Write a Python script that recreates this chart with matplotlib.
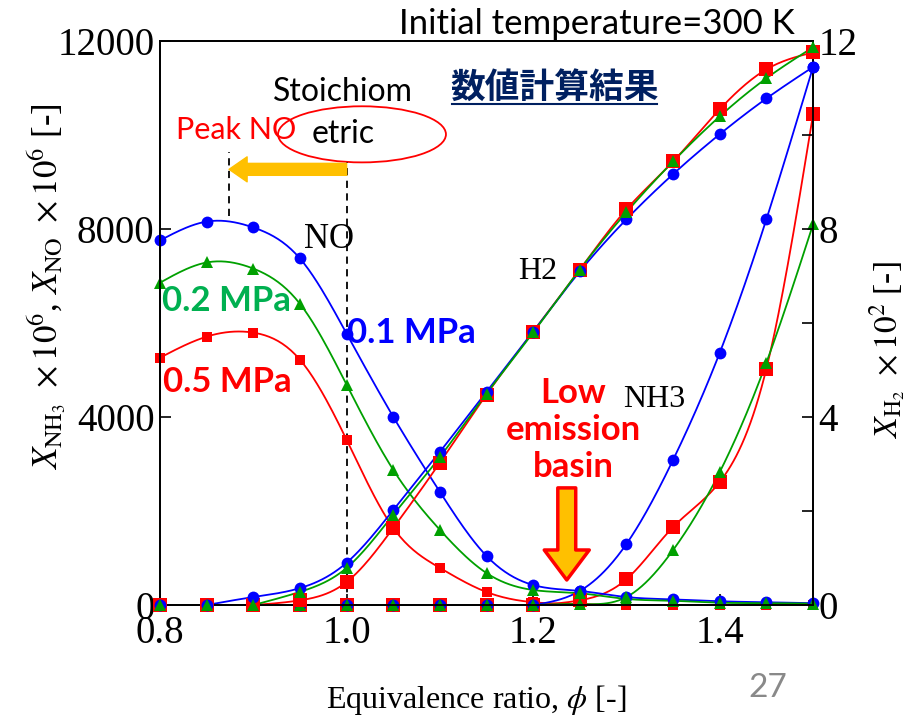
import numpy as np
import matplotlib
matplotlib.use("Agg")
import matplotlib.pyplot as plt
from matplotlib.patches import Ellipse
from matplotlib.lines import Line2D

plt.rcParams['mathtext.fontset'] = 'stix'

# equivalence ratio
phi = [0.8, 0.85, 0.9, 0.95, 1.0, 1.05, 1.1, 1.15, 1.2, 1.25, 1.3, 1.35, 1.4, 1.45, 1.5]

# NO mole fraction x1e6 (left axis)
no_01 = [7760, 8160, 8035, 7375, 5776, 4007, 2408, 1044, 426, 300, 170, 120, 80, 60, 40]
no_02 = [6860, 7290, 7160, 6410, 4690, 2877, 1600, 680, 320, 250, 130, 90, 50, 40, 30]
no_05 = [5264, 5712, 5797, 5221, 3517, 1641, 790, 277, 60, 20, 0, 0, 0, 0, 0]

# NH3 mole fraction x1e6 (left axis)
nh3_01 = [0, 0, 0, 0, 0, 0, 0, 0, 0, 300, 1300, 3090, 5370, 8210, 11450]
nh3_02 = [0, 0, 0, 0, 0, 0, 0, 0, 0, 20, 170, 1170, 2830, 5160, 8100]
nh3_05 = [0, 0, 0, 0, 0, 0, 0, 0, 0, 100, 550, 1660, 2620, 5030, 10440]

# H2 mole fraction x1e2 (right axis)
h2_01 = [0, 0, 0.17, 0.36, 0.90, 2.02, 3.26, 4.54, 5.82, 7.10, 8.21, 9.17, 10.02, 10.78, 11.45]
h2_02 = [0, 0, 0, 0.28, 0.79, 1.92, 3.15, 4.50, 5.80, 7.14, 8.36, 9.44, 10.40, 11.21, 11.87]
h2_05 = [0, 0, 0, 0.10, 0.49, 1.64, 3.03, 4.48, 5.82, 7.14, 8.42, 9.44, 10.55, 11.40, 11.76]

phi_peak = 0.874


def spline(x, y, num=300):
    # natural cubic spline through the points
    x = np.asarray(x, float)
    y = np.asarray(y, float)
    n = len(x)
    h = np.diff(x)
    A = np.zeros((n, n))
    b = np.zeros(n)
    A[0, 0] = A[-1, -1] = 1
    for i in range(1, n - 1):
        A[i, i - 1] = h[i - 1]
        A[i, i] = 2 * (h[i - 1] + h[i])
        A[i, i + 1] = h[i]
        b[i] = 3 * ((y[i + 1] - y[i]) / h[i] - (y[i] - y[i - 1]) / h[i - 1])
    c = np.linalg.solve(A, b)
    bb = (y[1:] - y[:-1]) / h - h * (2 * c[:-1] + c[1:]) / 3
    d = (c[1:] - c[:-1]) / (3 * h)
    xs = np.linspace(x[0], x[-1], num)
    k = np.clip(np.searchsorted(x, xs) - 1, 0, n - 2)
    t = xs - x[k]
    ys = y[k] + bb[k] * t + c[k] * t ** 2 + d[k] * t ** 3
    return xs, ys


def draw(ax, y, color, marker, ms):
    y = np.asarray(y, float)
    start = max(int(np.argmax(y > 0)) - 1, 0)
    xs, ys = spline(phi[start:], y[start:])
    ax.plot(xs, ys, color=color, lw=1.3, zorder=2)
    ax.plot(phi, y, ls='none', marker=marker, ms=ms, color=color, mew=0, zorder=3, clip_on=False)


fig = plt.figure(figsize=(9.16, 7.22), dpi=100)
ax = fig.add_axes([0.1747, 0.162, 0.7129, 0.781])
ax2 = ax.twinx()

blue, green, red = '#0000FF', '#00A000', '#FF0000'

draw(ax, no_05, red, 's', 7)
draw(ax, nh3_05, red, 's', 10)
draw(ax, no_01, blue, 'o', 8.5)
draw(ax, nh3_01, blue, 'o', 8.5)
draw(ax, no_02, green, '^', 9)
draw(ax, nh3_02, green, '^', 9)
draw(ax2, h2_05, red, 's', 10)
draw(ax2, h2_01, blue, 'o', 8.5)
draw(ax2, h2_02, green, '^', 9)

ax.set_xlim(0.8, 1.5)
ax.set_ylim(0, 12000)
ax2.set_ylim(0, 12)
ax.set_xticks([0.8, 1.0, 1.2, 1.4])
ax.set_xticklabels(['0.8', '1.0', '1.2', '1.4'])
ax.set_yticks([0, 4000, 8000, 12000])
ax2.set_yticks([0, 4, 8, 12])
ax2.set_yticks([2, 6, 10], minor=True)

for a in (ax, ax2):
    a.tick_params(direction='in', length=8, width=1.2, labelsize=28, pad=4)
    a.tick_params(which='minor', direction='in', length=8, width=1.2)
    for lab in a.get_xticklabels() + a.get_yticklabels():
        lab.set_fontfamily('Liberation Serif')
    for s in a.spines.values():
        s.set_linewidth(1.3)
ax.tick_params(axis='x', pad=7)

# dashed guide lines
ax.plot([1.0, 1.0], [0, 9420], ls='--', color='black', lw=1.3, dashes=(4, 3))
ax.plot([phi_peak, phi_peak], [8270, 9634], ls='--', color='black', lw=1.3, dashes=(4, 3))

# orange arrow toward peak
ax.annotate('', xy=(phi_peak, 9272), xytext=(1.0, 9272),
            arrowprops=dict(arrowstyle='simple,head_length=0.65,head_width=0.9,tail_width=0.43',
                            color='#FFC000', shrinkA=0, shrinkB=0, mutation_scale=20))
# down arrow
ax.annotate('', xy=(1.236, 533), xytext=(1.236, 2493),
            arrowprops=dict(arrowstyle='simple,head_length=0.72,head_width=1.08,tail_width=0.43',
                            fc='#FFC000', ec='#FF0000', lw=2.5, shrinkA=0, shrinkB=0,
                            mutation_scale=30))

ax.add_patch(Ellipse((1.0165, 10017), 0.180, 1194, fill=False, ec='#FF0000', lw=1.3))

sans = 'Lato'
serif = 'Liberation Serif'
ax.text(0.996, 10912, 'Stoichiom', fontsize=23, family=sans, ha='center', va='center')
ax.text(0.996, 10017, 'etric', fontsize=23, family=sans, ha='center', va='center')
ax.text(0.882, 10100, 'Peak NO', fontsize=22, family=sans, color='#FF0000', ha='center', va='center')
ax.text(0.981, 7779, 'NO', fontsize=25, family=serif, ha='center', va='center')
ax.text(1.205, 7097, 'H2', fontsize=23, family=serif, ha='center', va='center')
ax.text(1.33, 4370, 'NH3', fontsize=23, family=serif, ha='center', va='center')
ax.text(1.069, 5797, '0.1 MPa', fontsize=25, family=sans, weight='bold', color='#0000FF', ha='center', va='center')
ax.text(0.871, 6478, '0.2 MPa', fontsize=25, family=sans, weight='bold', color='#00B050', ha='center', va='center')
ax.text(0.872, 4752, '0.5 MPa', fontsize=25, family=sans, weight='bold', color='#FF0000', ha='center', va='center')
for word, yv in zip(['Low', 'emission', 'basin'], [4518, 3730, 2941]):
    ax.text(1.243, yv, word, fontsize=25, family=sans, weight='bold', color='#FF0000',
            ha='center', va='center')

fig.text(555 / 916, 1 - 88 / 722, '数値計算結果', fontsize=25, weight='bold', color='#002060',
         family=['Noto Sans CJK JP', 'DejaVu Sans'], ha='center', va='center')
fig.lines.append(Line2D([452 / 916, 657 / 916], [1 - 104 / 722, 1 - 104 / 722],
                        transform=fig.transFigure, color='#002060', lw=1.5))
fig.text(795 / 916, 1 - 24 / 722, 'Initial temperature=300 K', fontsize=25, family=sans,
         ha='right', va='center')
fig.text(768 / 916, 1 - 688 / 722, '27', fontsize=24, family=sans, color='#898989',
         ha='center', va='center')

fig.text(476 / 916, 1 - 700 / 722, r'Equivalence ratio, $\phi$ [-]', fontsize=23, family=serif,
         ha='center', va='center')
fig.text(47 / 916, 1 - 287 / 722, r'$X_{\rm NH_3}\ \times 10^6$, $X_{\rm NO}\ \times 10^6$ [-]',
         fontsize=25, family=serif, rotation=90, ha='center', va='center')
fig.text(888 / 916, 1 - 350 / 722, r'$X_{\rm H_2}\ \times 10^2$ [-]', fontsize=24, family=serif,
         rotation=90, ha='center', va='center')

fig.savefig('out.png', dpi=100)
